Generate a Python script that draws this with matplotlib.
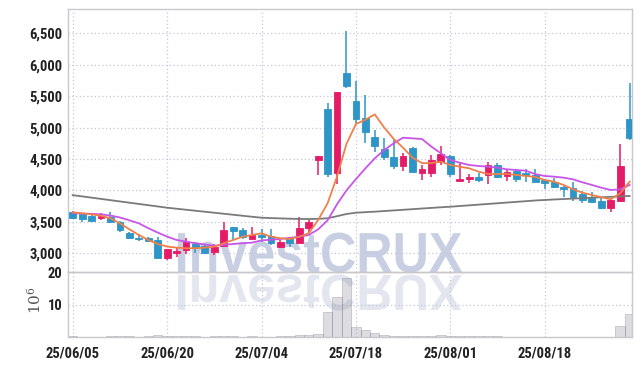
import matplotlib
matplotlib.use("Agg")
import matplotlib.pyplot as plt
from matplotlib.textpath import TextPath
from matplotlib.patches import PathPatch, Rectangle
from matplotlib.font_manager import FontProperties
from matplotlib.transforms import Affine2D, IdentityTransform
from matplotlib.ticker import FuncFormatter

# daily OHLC (KRW), 60 trading days from 25/06/05
opens = [3650, 3620, 3598, 3557, 3582, 3503, 3328, 3239, 3239, 3212,
         2920, 3000, 3053, 3148, 3116, 3016, 3116, 3414, 3371, 3227,
         3291, 3275, 3106, 3239, 3169, 3398, 4484, 5291, 4283, 5873,
         5422, 5148, 4855, 4659, 4527, 4394, 4670, 4273, 4283, 4447,
         4548, 4155, 4187, 4208, 4246, 4405, 4234, 4314, 4271, 4245,
         4166, 4139, 4060, 4034, 3943, 3876, 3832, 3725, 3832, 5136]
highs = [3665, 3636, 3605, 3636, 3662, 3510, 3335, 3302, 3264, 3264,
         3075, 3105, 3239, 3185, 3148, 3148, 3498, 3420, 3398, 3414,
         3387, 3387, 3212, 3264, 3582, 3530, 4550, 5396, 5570, 6541,
         5745, 5518, 4961, 4829, 4800, 4591, 4697, 4405, 4564, 4712,
         4560, 4431, 4262, 4283, 4457, 4432, 4341, 4341, 4336, 4341,
         4175, 4193, 4070, 4139, 3996, 3970, 3875, 3855, 4734, 5705]
lows = [3550, 3505, 3500, 3530, 3480, 3334, 3225, 3196, 3175, 2920,
        2893, 2936, 2990, 3000, 2990, 2973, 3100, 3212, 3223, 3220,
        3185, 3132, 3080, 3106, 3160, 3318, 4246, 4219, 4102, 5625,
        5068, 4750, 4616, 4484, 4341, 4309, 4290, 4166, 4219, 4405,
        4219, 4129, 4113, 4129, 4102, 4193, 4150, 4139, 4129, 4130,
        4018, 4034, 3901, 3837, 3795, 3795, 3700, 3652, 3820, 4802]
closes = [3565, 3545, 3515, 3598, 3493, 3371, 3239, 3223, 3200, 2930,
          3068, 3041, 3185, 3095, 3011, 3095, 3371, 3360, 3264, 3291,
          3264, 3159, 3185, 3159, 3398, 3503, 4548, 4262, 5561, 5666,
          5136, 4935, 4712, 4527, 4394, 4548, 4299, 4341, 4484, 4580,
          4262, 4182, 4208, 4166, 4405, 4219, 4299, 4182, 4245, 4139,
          4123, 4060, 4023, 3901, 3848, 3822, 3725, 3848, 4389, 4829]

# moving averages as drawn
ma_short = [3652, 3635, 3618, 3598, 3557, 3477, 3382, 3291, 3212, 3148,
            3106, 3090, 3080, 3080, 3090, 3106, 3159, 3212, 3264, 3291,
            3318, 3264, 3239, 3228, 3264, 3318, 3530, 3795, 4219, 4740,
            5057, 5125, 5210, 5000, 4820, 4680, 4520, 4435, 4435, 4457,
            4405, 4378, 4352, 4299, 4262, 4262, 4262, 4246, 4230, 4215,
            4166, 4139, 4087, 4018, 3964, 3928, 3891, 3859, 3955, 4139]
ma_mid = [3640, 3632, 3627, 3620, 3600, 3570, 3525, 3477, 3400, 3330,
          3265, 3212, 3185, 3159, 3140, 3120, 3132, 3148, 3160, 3169,
          3205, 3215, 3228, 3245, 3264, 3291, 3380, 3525, 3780, 4000,
          4180, 4350, 4511, 4643, 4750, 4839, 4829, 4818, 4697, 4591,
          4484, 4441, 4405, 4389, 4378, 4362, 4336, 4325, 4314, 4260,
          4230, 4219, 4203, 4177, 4129, 4087, 4044, 4007, 4018, 4087]
ma_long = [3925, 3905, 3885, 3865, 3845, 3825, 3805, 3785, 3765, 3745,
           3725, 3709, 3693, 3677, 3661, 3645, 3629, 3613, 3597, 3581,
           3566, 3560, 3555, 3550, 3546, 3545, 3548, 3557, 3590, 3625,
           3645, 3654, 3662, 3672, 3682, 3692, 3702, 3712, 3722, 3732,
           3741, 3752, 3763, 3774, 3785, 3796, 3807, 3818, 3829, 3840,
           3848, 3856, 3863, 3870, 3877, 3884, 3891, 3898, 3905, 3912]

# volume in millions
volume = [0.2, 0.15, 0.1, 0.15, 0.2, 0.25, 0.2, 0.15, 0.2, 0.5,
          0.3, 0.2, 0.25, 0.2, 0.15, 0.2, 0.4, 0.2, 0.15, 0.2,
          0.15, 0.15, 0.2, 0.2, 0.5, 0.6, 0.8, 7.8, 12.3, 18.2,
          3.2, 2.2, 1.1, 0.6, 0.4, 0.3, 0.35, 0.3, 0.3, 0.5,
          0.3, 0.2, 0.2, 0.2, 0.3, 0.2, 0.15, 0.15, 0.15, 0.1,
          0.1, 0.1, 0.1, 0.1, 0.1, 0.1, 0.1, 0.1, 3.4, 7.1]

tick_pos = [0, 10, 20, 30, 40, 50]
tick_labels = ["25/06/05", "25/06/20", "25/07/04", "25/07/18", "25/08/01", "25/08/18"]
price_ticks = [3000, 3500, 4000, 4500, 5000, 5500, 6000, 6500]
vol_ticks = [10, 20]

UP = "#e61b68"
DOWN = "#2e95c7"
GRID = "#c3c8dc"
SPINE = "#c8c8cc"
LABEL_FONT = ["Roboto Condensed", "Liberation Sans Narrow", "DejaVu Sans"]

plt.rcParams["mathtext.fontset"] = "dejavuserif"

W, H = 642, 366
fig = plt.figure(figsize=(W / 100, H / 100), dpi=100, facecolor="white")
ax = fig.add_axes([68 / W, 94 / H, 564 / W, 262.8 / H])
axv = fig.add_axes([68 / W, 29 / H, 564 / W, 65 / H], sharex=ax)
for a in (ax, axv):
    a.set_facecolor("none")
    for s in a.spines.values():
        s.set_color(SPINE)
        s.set_linewidth(1.0)
    a.grid(True, linestyle=(0, (1, 2)), color=GRID, linewidth=0.9)
    a.set_axisbelow(True)
    a.tick_params(length=0, labelsize=10.5, labelcolor="#222222")

# watermark with reflection, behind the axes
fp = FontProperties(family="Liberation Sans", weight="bold")
tp = TextPath((0, 0), "InvestCRUX", size=50, prop=fp)
bb = tp.get_extents()
sx = 284 / bb.width
sy = 40 / bb.height
main_tr = Affine2D().translate(-bb.x0, 0).scale(sx, sy).translate(178, 94)
refl_tr = Affine2D().translate(-bb.x0, 0).scale(sx, -sy * 0.9).translate(178, 91)
fig.add_artist(PathPatch(tp, transform=main_tr + IdentityTransform(),
                         facecolor="#c8cfe2", edgecolor="none", zorder=-2))
fig.add_artist(PathPatch(tp, transform=refl_tr + IdentityTransform(),
                         facecolor="#e3e6ee", edgecolor="none", zorder=-2))

# candles
body_w = 0.72
for i in range(len(opens)):
    o, h, l, c = opens[i], highs[i], lows[i], closes[i]
    col = UP if c >= o else DOWN
    ax.vlines(i, l, h, color=col, linewidth=1.1, zorder=2)
    bottom = min(o, c)
    height = max(abs(c - o), 12)
    ax.add_patch(Rectangle((i - body_w / 2, bottom), body_w, height,
                           facecolor=col, edgecolor=col, linewidth=0.6, zorder=3))

x = list(range(len(opens)))
ax.plot(x, ma_long, color="#7a7a7a", linewidth=1.3, zorder=4)
ax.plot(x, ma_mid, color="#c855e8", linewidth=1.3, zorder=4)
ax.plot(x, ma_short, color="#f0804a", linewidth=1.3, zorder=5)

ax.set_ylim(2702, 6884)
ax.set_xlim(-0.5, 59.25)
ax.set_yticks(price_ticks)
ax.yaxis.set_major_formatter(FuncFormatter(lambda v, p: f"{int(v):,}"))
ax.tick_params(axis="x", labelbottom=False)
ax.tick_params(axis="y", pad=4)
for t in ax.get_yticklabels():
    t.set_fontfamily(LABEL_FONT)
    t.set_fontweight("bold")

axv.bar(x, volume, width=1.0, color=(0.55, 0.55, 0.62, 0.3),
        edgecolor=(0.45, 0.45, 0.5, 0.35), linewidth=0.6, zorder=2)
axv.set_ylim(0, 20.05)
axv.set_yticks(vol_ticks)
axv.set_xticks(tick_pos)
axv.set_xticklabels(tick_labels)
axv.tick_params(axis="x", pad=7)
axv.tick_params(axis="y", pad=4)
for t in axv.get_yticklabels() + axv.get_xticklabels():
    t.set_fontfamily(LABEL_FONT)
    t.set_fontweight("bold")

fig.text(35 / W, 1 - 300 / H, r"$10^6$", rotation=90, ha="center", va="center",
         fontsize=11, color="#555555")

fig.savefig("out.png", dpi=100)
plt.close(fig)
